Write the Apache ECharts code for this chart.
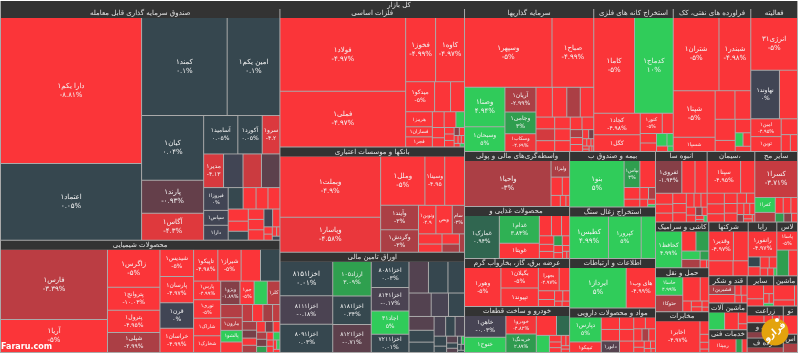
<!DOCTYPE html>
<html><head><meta charset="utf-8">
<script src="https://cdn.jsdelivr.net/npm/echarts@6/dist/echarts.min.js"></script>
<style>html,body{margin:0;padding:0;background:#fff}#c{width:800px;height:353px}</style>
</head><body><div id="c"></div>
<script>
const rootName = 'کل بازار';
const groupTitles = {
  fund:'صندوق سرمایه گذاری قابل معامله', chem:'محصولات شیمیایی', metal:'فلزات اساسی', bank:'بانکها و موسسات اعتباری',
  bond:'اوراق تامین مالی', invest:'سرمایه گذاریها', kaneh:'استخراج کانه های فلزی', naft:'فراورده های نفتی، کک',
  komak:'فعالیتهای کمکی', vaset:'واسطه‌گری‌های مالی و پولی', ghaza:'محصولات غذایی و آشامیدنی به جز قند', barq:'عرضه برق، گاز، بخاروآب گرم',
  khodro:'خودرو و ساخت قطعات', bimeh:'بیمه و صندوق بازنشستگی به جز', zoghal:'استخراج زغال سنگ', ettela:'اطلاعات و ارتباطات',
  daru:'مواد و محصولات دارویی', anbuh:'انبوه سازی، املاک', siman:'سیمان، آهک و گچ', sayer:'سایر محصولات کانی',
  kashi:'کاشی و سرامیک', haml:'حمل و نقل، انبارداری', mokh:'مخابرات', chand:'شرکتهای چند رشته', rayan:'رایانه و فعالیت',
  lastik:'لاستیک و پلاستیک', ghand:'قند و شکر', mashin:'ماشین آلات', khadamat:'خدمات فنی', sayer2:'سایر', mashi:'ماشین', zera:'زراعت',
  hotel:'هتل و سیاحت', es:'اس', khorde:'خرده فروشی', tolid:'تولید'
};
const groupSizes = {fund:64680,chem:31360,metal:25530,bank:19425,bond:18500,invest:18460,kaneh:11360,naft:11076,komak:6674,
  vaset:5775,ghaza:5460,barq:5040,khodro:4830,bimeh:4760,zoghal:4420,ettela:4250,daru:3825,anbuh:3640,siman:3360,sayer:3010,
  kashi:2438,haml:2332,mokh:2173,chand:2120,rayan:1537,lastik:1113,ghand:1036,mashin:1026,khadamat:874,sayer2:800,mashi:720,zera:600,hotel:560,es:260,khorde:520,tolid:400};

const fundNames=['دارا یکم۱','اعتماد۱','کمند۱','امین یکم۱','کیان۱','پارند۱','آگاس۱','آسامید۱','آکورد۱','سرو۱','مدیر۱','','','','فیروزا۱','دارا۱','سپاس۱'];
const fundValues=[20300,10640,8256,5088,3965,2013,1647,1295,925,670,660,646,612,612,552,360,360,315,273,252,252,240,200,160,176,160,160,153,128,60,50,40,30,30];
const fundChanges=[-8.81,0.05,0.1,0.1,0.04,-0.93,-4.3,0.05,0.05,-4.2,-4.13,0,-0.7,-3.8,0,0,0,0.3,-5,-5,-5,-5,-5,-5,0.3,-5,-5,0,-5,-5,-5,-5,0,-5];

const chemNames=['فارس۱','آریا۱','زاگرس۱','پتروانج۱','پترول۱','شپلی۱','شیدیس۱','پارسان۱','قرن۱','خراسان۱','تاپیکو۱','شیراز۱','','','پارس۱','نوری۱','شاراک۱','شخارک۱','ویژو۱','جم۱','','','کلر۱','مارون۱','پالشو۱'];
const chemValues=[7280,3432,1938,1173,1122,1020,891,858,825,792,750,720,600,600,490,486,462,440,437,322,299,276,286,264,242,220,170,170,160,120,121,110,100,100,90,80,70,70,70,60,50,50,40,40,30,30,20];
const chemChanges=[-3.39,-5,-5,-10.04,-4.95,-2.99,-5,-4.97,0,-4.99,-4.98,-5,0.3,-5,-4.99,-5,-5,-5,-1.89,-5,5,-3.2,-3.3,-3.3,5,-5,-5,-3.5,-2.8,-2.8,-3.5,-1.5,-3,-4.9,-4.9,-1.5,-1.5,-3,-5,3,5,-5,-5,-5,5,-5,-5];

const metalNames=['فولاد۱','فملی۱','فخوز۱','کاوه۱','میدکو۱','','','هرمز۱','','','','فجر۱','فسازان۱'];
const metalValues=[8979,6765,1860,1798,841,464,406,390,180,180,120,260,260,132,108,60,60,60,40,40,30,25,25,20,15];
const metalChanges=[-4.97,-4.97,-4.99,-4.97,-5,-5,-5,-5,-5,-5,-5,-5,-5,5,-5,-5,-5,-5,-5,-2,-5,-5,-5,-5,5];

const bankNames=['وبملت۱','وپاسار۱','وملل۱','','وسینا۱','وآیند۱','وگردش۱','ونوین۱','وبصادر۱','سامان۱'];
const bankValues=[5940,3366,2100,940,940,888,814,476,448,336,230,184,170,136,90];
const bankChanges=[-4.9,-4.58,-5,-5,-4.95,-3,-3,-4.93,-5,-3,-5,-5,-5,-3,-3];

const bondNames=['اخزا۸۱۵۱','ارزاد۱۰۵','اخزا۸۰۸۱','اخزا۸۱۱۱','اخزا۸۰۹۱','اخزا۸۱۸۱','اخزا۸۱۲۱','اخزا۸۱۴۱','اجاد۳۱','اخزا۷۲۱۱'];
const bondValues=[1768,1292,962,1456,1440,1070,1040,851,850,666,600,600,510,504,392,364,336,288,252,220,180,180,121,77,72,56,45,30,25,20,20,15];
const bondChanges=[0.01,3.09,0.03,-0.18,0.03,0.34,-0.71,-0.17,5,0.01,0.2,-0.4,0.1,-0.4,-0.1,0.1,-0.5,0.1,0.1,-0.1,-0.1,0.1,0.1,0.1,-0.5,0.1,-0.5,0.1,5,0.1,0.1,0.1];

const investNames=['وسپهر۱','صباح۱','وصنا۱','وسبحان۱','آریان۱','وجامی۱','وسکاب۱'];
const investValues=[5984,2856,1560,975,750,660,540,476,420,392,392,216,216,198,180,180,165,144,144,96,84,84,54,45,30,30,20,20,15,15,10];
const investChanges=[-5,-4.99,4.94,5,-2.99,3,-4.69,-5,-5,-5,-3,-4,-5,-5,-5,-5,-5,-5,-5,-3,-5,-5,-5,-1.5,-5,-5,-5,-5,-5,-5,-5];

const kanehNames=['کاما۱','کدماج۱','کچاد۱','کگل۱','کنور۱'];
const kanehValues=[3854,3666,990,765,440,220,153,136,130,78,60,30];
const kanehChanges=[-5,10,-4.98,-5,-5,-5,-5,-5,5,5,-5,5];

const naftNames=['شتران۱','شبندر۱','شپنا۱','شسپا۱'];
const naftValues=[3312,2304,1932,588,560,448,420,220,208,104,104,80];
const naftChanges=[-5,-4.98,-5,-5,-5,-5,-5,-5,-5,-5,5,-5];

const komakNames=['انرژی۳۱','نهاوند۱','','امین۱','توین۱'];
const komakValues=[2288,1296,816,504,420,240,144,112];
const komakChanges=[-5,0,-5,-4.95,-5,-5,-5,-5];

const vasetNames=['واحیا۱','ولیزا۱'];
const vasetValues=[3864,300,200,130,100,60,40];
const vasetChanges=[-3,-3,-5,-5,-5,-5,-5];

const ghazaNames=['غمارک۱','غدام۱','غویتا۱'];
const ghazaValues=[1462,1080,600,240,200,160,120,100,100,80,70,60,50,40,30,20];
const ghazaChanges=[0.94,3.84,-5,-5,-5,-5,-5,-5,-5,3,-5,-5,-5,-5,-5,-5];

const barqNames=['وهور۱','بگیلان۱','تپیوند۱','بجهرا'];
const barqValues=[1404,760,684,480,240,140,112,84,70,40,40];
const barqChanges=[-5,-5,-5,-4.97,-5,-5,-5,-5,-5,-5,-5];

const khodroNames=['خاهن۱','خنوح۱','خریدنگ۱','خودرو۱'];
const khodroValues=[943,656,589,589,420,273,234,81,70,60,50,40,30,30];
const khodroChanges=[-0.03,5,2.89,-4.82,-5,1,5,-5,-5,-5,-5,-5,-5,-5];

const bimehNames=['بنو۱','بپاس۱'];
const bimehValues=[2491,420,416,180,120,100,80,60,40,20];
const bimehChanges=[5,3,-5,-5,-5,-5,-3,-5,-5,5];

const zoghalNames=['کطبس۱','کپرور۱'];
const zoghalValues=[1634,1376,602];
const zoghalChanges=[4.99,5,5];

const ettelaNames=['ایرداز۱','های وب۱'];
const ettelaValues=[2240,1160];
const ettelaChanges=[5,-4.99];

const daruNames=['دپارس۱','تیپیکو۱','','دابور۱'];
const daruValues=[858,363,247,228,228,192,176,180,150,130,110,90,90,70,60,50,40,30,20];
const daruChanges=[5,-5,-5,-0.5,-5,-5,-5,-5,-5,-5,-5,-5,-3,-5,-5,-5,-5,-5,-5];

const anbuhNames=['ثفروی۱'];
const anbuhValues=[806,403,372,176,144,144,130,117,117,100,90,80,70,60,50,40,30,20,20];
const anbuhChanges=[-1.94,-5,-5,-5,-5,-5,-5,-5,-5,-5,-5,-5,-5,-5,-2,-5,-5,5,-5];

const simanNames=['سپنا۱'];
const simanValues=[1155,490,195,180,150,140,130,120,100,90,80,70,60,50,40,30,20];
const simanChanges=[-4.95,-5,-5,-5,-5,-5,-5,-5,-5,-5,-5,-5,-5,-2,-5,-5,-5];

const sayerNames=['کسرا۱','کفرا۱'];
const sayerValues=[1512,294,189,120,117,100,72,65,50];
const sayerChanges=[-3.71,5,-3.2,-5,-5,-5,3,-2,-5];

const kashiNames=['کحافظ۱'];
const kashiValues=[900,266,240,144,144,72,48,16];
const kashiChanges=[4.99,-5,3,-3,5,3,-5,-5];

const hamlNames=['حاسا۱','حتوکا۱'];
const hamlValues=[486,432,408,200,88,60,50,40,30];
const hamlChanges=[4.99,-3,-5,-5,-5,-5,-5,-5,-5];

const mokhNames=['اخابر۱'];
const mokhValues=[1408,120,70,60,30];
const mokhChanges=[-4.97,-5,-5,-5,-5];

const chandNames=['وقدیر۱'];
const chandValues=[675,405,336,210];
const chandChanges=[-4.97,-5,-5,-5];

const rayanNames=['رانفور۱'];
const rayanValues=[621,98,91,84,70,50,40,20];
const rayanChanges=[-4.97,0.2,-5,-5,-5,-5,-5,5];

const lastikNames=['پاسا۱'];
const lastikValues=[357,276,207];
const lastikChanges=[-5,3,-5];

const ghandNames=['قشیرین۱'];
const ghandValues=[240,209,60,60,50,40];
const ghandChanges=[-3,-5,-5,-5,-5,-5];

const mashinValues=[270,234,100,50];
const mashinChanges=[5,-5,-5,-5];

const khadamatNames=['رمپنا۱'];
const khadamatValues=[378,84,70];
const khadamatChanges=[-5,3,-5];

const sayer2Values=[208,108,80,48,40,25];
const sayer2Changes=[-5,-5,-5,-5,-5,5];
const mashiValues=[300,120,60];
const mashiChanges=[-5,-5,-5];
const zeraValues=[200,100,80,50];
const zeraChanges=[-5,-5,-5,-5];
const hotelValues=[180,100,80];
const hotelChanges=[-2,-1,-5];
const esValues=[100];
const esChanges=[-3];
const khordeValues=[200];
const khordeChanges=[-3];
const tolidValues=[100];
const tolidChanges=[-5];

const nameOnlyTiles=['فجر۱','فسازان۱','هرمز۱','کگل۱','شسپا۱','توین۱','غویتا۱','تپیوند۱','حتوکا۱','رمپنا۱','قشیرین۱','شاراک۱','شخارک۱','کلر۱','مارون۱','پالشو۱','دارا۱','سپاس۱','وبصادر۱','تیپیکو۱','دابور۱','خنوح۱','کفرا۱','ولیزا۱'];

const palette=[[-5,[251,53,57]],[-3,[171,63,69]],[-1,[102,63,73]],[-0.01,[70,68,84]],[0,[65,69,84]],[0.01,[54,71,79]],[0.5,[54,72,79]],[1,[47,106,80]],[3,[47,158,79]],[5,[48,204,90]]];
function changeColor(v){
  const c=Math.max(-5,Math.min(5,v));
  for(let i=1;i<palette.length;i++){
    if(c<=palette[i][0]){
      const a=palette[i-1],b=palette[i],t=(c-a[0])/(b[0]-a[0]);
      return 'rgb('+a[1].map((x,k)=>Math.round(x+(b[1][k]-x)*t)).join(',')+')';
    }
  }
  return 'rgb(48,204,90)';
}
const faDigits=s=>String(s).replace(/\d/g,d=>'۰۱۲۳۴۵۶۷۸۹'[d]);
const fontFamily='"DejaVu Sans",sans-serif';
function tile(name,value,change){
  const fs=value>=1500?7:value>=600?6:5;
  const text=!name?'':(nameOnlyTiles.includes(name)?name:name+'\n'+faDigits(change)+'%');
  return {name:name||' ',value,itemStyle:{color:changeColor(change)},label:{formatter:text,fontSize:fs,lineHeight:fs+2}};
}
function group(key,names,values,changes){
  return {name:groupTitles[key],value:groupSizes[key],children:values.map((v,i)=>tile((names||[])[i],v,changes[i]))};
}
const groups=[
  group('fund',fundNames,fundValues,fundChanges),group('chem',chemNames,chemValues,chemChanges),
  group('metal',metalNames,metalValues,metalChanges),group('bank',bankNames,bankValues,bankChanges),
  group('bond',bondNames,bondValues,bondChanges),group('invest',investNames,investValues,investChanges),
  group('kaneh',kanehNames,kanehValues,kanehChanges),group('naft',naftNames,naftValues,naftChanges),
  group('komak',komakNames,komakValues,komakChanges),group('vaset',vasetNames,vasetValues,vasetChanges),
  group('ghaza',ghazaNames,ghazaValues,ghazaChanges),group('barq',barqNames,barqValues,barqChanges),
  group('khodro',khodroNames,khodroValues,khodroChanges),group('bimeh',bimehNames,bimehValues,bimehChanges),
  group('zoghal',zoghalNames,zoghalValues,zoghalChanges),group('ettela',ettelaNames,ettelaValues,ettelaChanges),
  group('daru',daruNames,daruValues,daruChanges),group('anbuh',anbuhNames,anbuhValues,anbuhChanges),
  group('siman',simanNames,simanValues,simanChanges),group('sayer',sayerNames,sayerValues,sayerChanges),
  group('kashi',kashiNames,kashiValues,kashiChanges),group('haml',hamlNames,hamlValues,hamlChanges),
  group('mokh',mokhNames,mokhValues,mokhChanges),group('chand',chandNames,chandValues,chandChanges),
  group('rayan',rayanNames,rayanValues,rayanChanges),group('lastik',lastikNames,lastikValues,lastikChanges),
  group('ghand',ghandNames,ghandValues,ghandChanges),group('mashin',null,mashinValues,mashinChanges),
  group('khadamat',khadamatNames,khadamatValues,khadamatChanges),group('sayer2',null,sayer2Values,sayer2Changes),
  group('mashi',null,mashiValues,mashiChanges),group('zera',null,zeraValues,zeraChanges),
  group('hotel',null,hotelValues,hotelChanges),group('khorde',null,khordeValues,khordeChanges),
  group('tolid',null,tolidValues,tolidChanges),group('es',null,esValues,esChanges)
];
const upper=(h,fs)=>({show:true,height:h,position:'inside',align:'center',verticalAlign:'middle',color:'#e2e2e2',fontSize:fs,fontFamily,backgroundColor:'#333',ellipsis:'',padding:0});
const chart=echarts.init(document.getElementById('c'),null,{renderer:'canvas'});
chart.setOption({
  animation:false,backgroundColor:'#fff',
  series:[{
    type:'treemap',left:0,top:1,right:2,bottom:0,roam:false,nodeClick:false,silent:true,
    breadcrumb:{show:false},visibleMin:0,sort:'desc',
    label:{show:true,position:'inside',color:'#f4f4f4',fontFamily,ellipsis:'',overflow:'truncate',padding:0},
    levels:[
      {itemStyle:{borderWidth:0,gapWidth:0,borderColor:'#aaaaaa'},upperLabel:{show:false}},
      {itemStyle:{borderWidth:1,gapWidth:1,borderColor:'#aaaaaa'},upperLabel:upper(8,7)},
      {itemStyle:{borderWidth:0,gapWidth:1,borderColor:'#aaaaaa'},upperLabel:upper(9,7)},
      {itemStyle:{borderWidth:0,gapWidth:0,borderColor:'#aaaaaa'}}
    ],
    data:[{name:rootName,children:groups}]
  }],
  graphic:[
    {type:'text',z:100,left:1,top:343,silent:true,style:{text:'Fararu.com',fill:'#fff',font:'bold 8px "DejaVu Sans"'}},
    {type:'circle',z:100,shape:{cx:775,cy:332,r:13.5},silent:true,style:{fill:'#e3a30e'}},
    {type:'circle',z:101,shape:{cx:777,cy:320,r:2},silent:true,style:{fill:'#fff'}},
    {type:'text',z:101,x:775,y:332,rotation:0.7,silent:true,style:{text:'فرارو',fill:'#fff',font:'bold 9px "DejaVu Sans"',align:'center',verticalAlign:'middle'}}
  ]
});
</script></body></html>
